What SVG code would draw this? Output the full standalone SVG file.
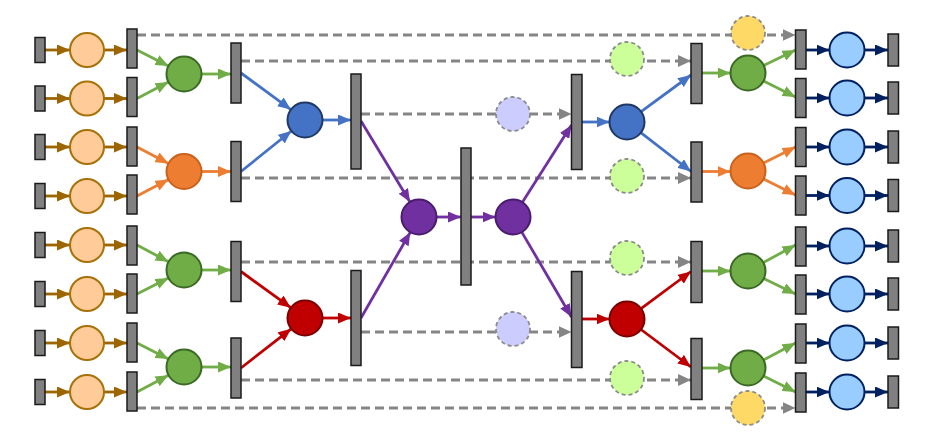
<svg xmlns="http://www.w3.org/2000/svg" width="933" height="436" viewBox="0 0 933 436">
<style>
.bar{fill:#808080;stroke:#1a1a1a;stroke-width:1.5}
.dash{stroke:#858585;stroke-width:3.2;stroke-dasharray:9 5;fill:none}
.ln{stroke-width:2.8;fill:none}
.brown{stroke:#9C6500}
.grn{stroke:#70AD47}
.org{stroke:#ED7D31}
.blu{stroke:#4472C4}
.red{stroke:#C00000}
.pur{stroke:#7030A0}
.nav{stroke:#002060}
.c-lo{fill:#FFCC99;stroke:#A67209;stroke-width:2}
.c-g{fill:#70AD47;stroke:#3B6A25;stroke-width:2}
.c-o{fill:#ED7D31;stroke:#C8621C;stroke-width:2}
.c-b{fill:#4472C4;stroke:#203864;stroke-width:2}
.c-r{fill:#C00000;stroke:#7A0000;stroke-width:2}
.c-p{fill:#7030A0;stroke:#4A1C6E;stroke-width:2}
.c-lb{fill:#99CCFF;stroke:#002060;stroke-width:2}
.c-lg{fill:#CCFF99;stroke:#8C8C8C;stroke-width:1.8;stroke-dasharray:4 3}
.c-lv{fill:#CCCCFF;stroke:#8C8C8C;stroke-width:1.8;stroke-dasharray:4 3}
.c-y{fill:#FFD966;stroke:#8C8C8C;stroke-width:1.8;stroke-dasharray:4 3}
</style>
<defs>
<marker id="aBrown" markerUnits="userSpaceOnUse" markerWidth="13" markerHeight="11" refX="13" refY="5.5" orient="auto"><path d="M0,0 L13,5.5 L0,11 z" fill="#9C6500"/></marker>
<marker id="aGrn" markerUnits="userSpaceOnUse" markerWidth="13" markerHeight="11" refX="13" refY="5.5" orient="auto"><path d="M0,0 L13,5.5 L0,11 z" fill="#70AD47"/></marker>
<marker id="aOrg" markerUnits="userSpaceOnUse" markerWidth="13" markerHeight="11" refX="13" refY="5.5" orient="auto"><path d="M0,0 L13,5.5 L0,11 z" fill="#ED7D31"/></marker>
<marker id="aBlu" markerUnits="userSpaceOnUse" markerWidth="13" markerHeight="11" refX="13" refY="5.5" orient="auto"><path d="M0,0 L13,5.5 L0,11 z" fill="#4472C4"/></marker>
<marker id="aRed" markerUnits="userSpaceOnUse" markerWidth="13" markerHeight="11" refX="13" refY="5.5" orient="auto"><path d="M0,0 L13,5.5 L0,11 z" fill="#C00000"/></marker>
<marker id="aPur" markerUnits="userSpaceOnUse" markerWidth="13" markerHeight="11" refX="13" refY="5.5" orient="auto"><path d="M0,0 L13,5.5 L0,11 z" fill="#7030A0"/></marker>
<marker id="aNav" markerUnits="userSpaceOnUse" markerWidth="13" markerHeight="11" refX="13" refY="5.5" orient="auto"><path d="M0,0 L13,5.5 L0,11 z" fill="#002060"/></marker>
<marker id="aGray" markerUnits="userSpaceOnUse" markerWidth="13" markerHeight="12" refX="13" refY="6" orient="auto"><path d="M0,0 L13,6 L0,12 z" fill="#858585"/></marker>
</defs>
<rect width="933" height="436" fill="#ffffff"/>

<g id="connectors">
<g class="dash" marker-end="url(#aGray)">
<line x1="137" y1="35" x2="795.5" y2="35"/>
<line x1="241" y1="61" x2="691" y2="61"/>
<line x1="361" y1="114" x2="571.5" y2="114"/>
<line x1="241" y1="178" x2="691" y2="178"/>
<line x1="241" y1="262" x2="691" y2="262"/>
<line x1="361" y1="332" x2="571.5" y2="332"/>
<line x1="241" y1="380" x2="691" y2="380"/>
<line x1="137" y1="408" x2="795.5" y2="408"/>
</g>
<g class="ln brown" marker-end="url(#aBrown)">
<line x1="45" y1="50" x2="70" y2="50"/><line x1="104" y1="50" x2="127" y2="50"/>
<line x1="45" y1="98.5" x2="70" y2="98.5"/><line x1="104" y1="98.5" x2="127" y2="98.5"/>
<line x1="45" y1="147" x2="70" y2="147"/><line x1="104" y1="147" x2="127" y2="147"/>
<line x1="45" y1="196" x2="70" y2="196"/><line x1="104" y1="196" x2="127" y2="196"/>
<line x1="45" y1="245" x2="70" y2="245"/><line x1="104" y1="245" x2="127" y2="245"/>
<line x1="45" y1="294" x2="70" y2="294"/><line x1="104" y1="294" x2="127" y2="294"/>
<line x1="45" y1="343" x2="70" y2="343"/><line x1="104" y1="343" x2="127" y2="343"/>
<line x1="45" y1="392" x2="70" y2="392"/><line x1="104" y1="392" x2="127" y2="392"/>
</g>
<g class="ln grn" marker-end="url(#aGrn)">
<line x1="137" y1="50" x2="168.4" y2="66"/>
<line x1="137" y1="98.5" x2="168.5" y2="82.1"/>
<line x1="201.5" y1="74" x2="231" y2="74"/>
<line x1="137" y1="245" x2="168.5" y2="261.8"/>
<line x1="137" y1="294" x2="168.4" y2="278"/>
<line x1="201.5" y1="270" x2="231" y2="270"/>
<line x1="137" y1="343" x2="168.4" y2="359"/>
<line x1="137" y1="392" x2="168.5" y2="375.2"/>
<line x1="201.5" y1="367" x2="231" y2="367"/>
</g>
<g class="ln org" marker-end="url(#aOrg)">
<line x1="137" y1="147" x2="168.5" y2="163.4"/>
<line x1="137" y1="196" x2="168.5" y2="179.6"/>
<line x1="201.5" y1="171.5" x2="231" y2="171.5"/>
</g>
<g class="ln blu" marker-end="url(#aBlu)">
<line x1="241" y1="73" x2="290.9" y2="109.6"/>
<line x1="241" y1="171.5" x2="291.4" y2="131"/>
<line x1="322.5" y1="120" x2="351" y2="120"/>
</g>
<g class="ln red" marker-end="url(#aRed)">
<line x1="241" y1="271.5" x2="290.8" y2="307.7"/>
<line x1="241" y1="368" x2="291.2" y2="328.8"/>
<line x1="322.5" y1="318" x2="351" y2="318"/>
</g>
<g class="ln pur" marker-end="url(#aPur)">
<line x1="361" y1="121" x2="410" y2="202"/>
<line x1="361" y1="318" x2="410.3" y2="232.2"/>
<line x1="436.5" y1="217" x2="461" y2="217"/>
<line x1="471" y1="217" x2="495.5" y2="217"/>
<line x1="522.4" y1="202.2" x2="571.5" y2="125"/>
<line x1="521.8" y1="232.1" x2="571.5" y2="317"/>
</g>
<g class="ln blu" marker-end="url(#aBlu)">
<line x1="582" y1="122" x2="609.5" y2="122"/>
<line x1="641.1" y1="111.6" x2="691" y2="75"/>
<line x1="640.8" y1="132.7" x2="691" y2="171.5"/>
</g>
<g class="ln red" marker-end="url(#aRed)">
<line x1="582" y1="319" x2="609.5" y2="319"/>
<line x1="641" y1="308.6" x2="691" y2="271.5"/>
<line x1="641" y1="329.5" x2="691" y2="367"/>
</g>
<g class="ln grn" marker-end="url(#aGrn)">
<line x1="702" y1="73" x2="730.5" y2="73"/>
<line x1="763.7" y1="65.4" x2="795.5" y2="50"/>
<line x1="763.6" y1="80.9" x2="795.5" y2="97"/>
<line x1="702" y1="271" x2="730.5" y2="271"/>
<line x1="763.4" y1="262.6" x2="795.5" y2="245"/>
<line x1="763.7" y1="278.6" x2="795.5" y2="294"/>
<line x1="702" y1="368" x2="730.5" y2="368"/>
<line x1="763.5" y1="359.9" x2="795.5" y2="343"/>
<line x1="763.6" y1="375.9" x2="795.5" y2="392"/>
</g>
<g class="ln org" marker-end="url(#aOrg)">
<line x1="702" y1="171.5" x2="730.5" y2="171.5"/>
<line x1="763.6" y1="163.1" x2="795.5" y2="147"/>
<line x1="763.6" y1="178.9" x2="795.5" y2="195"/>
</g>
<g class="ln nav" marker-end="url(#aNav)">
<line x1="806" y1="50" x2="829.5" y2="50"/><line x1="864.5" y1="50" x2="888" y2="50"/>
<line x1="806" y1="98" x2="829.5" y2="98"/><line x1="864.5" y1="98" x2="888" y2="98"/>
<line x1="806" y1="147" x2="829.5" y2="147"/><line x1="864.5" y1="147" x2="888" y2="147"/>
<line x1="806" y1="195.5" x2="829.5" y2="195.5"/><line x1="864.5" y1="195.5" x2="888" y2="195.5"/>
<line x1="806" y1="246" x2="829.5" y2="246"/><line x1="864.5" y1="246" x2="888" y2="246"/>
<line x1="806" y1="294" x2="829.5" y2="294"/><line x1="864.5" y1="294" x2="888" y2="294"/>
<line x1="806" y1="343" x2="829.5" y2="343"/><line x1="864.5" y1="343" x2="888" y2="343"/>
<line x1="806" y1="392" x2="829.5" y2="392"/><line x1="864.5" y1="392" x2="888" y2="392"/>
</g>
</g>

<g id="src-bars">
<rect class="bar" x="35" y="37.5" width="10" height="25"/>
<rect class="bar" x="35" y="86" width="10" height="25"/>
<rect class="bar" x="35" y="134.5" width="10" height="25"/>
<rect class="bar" x="35" y="183.5" width="10" height="25"/>
<rect class="bar" x="35" y="232.5" width="10" height="25"/>
<rect class="bar" x="35" y="281.5" width="10" height="25"/>
<rect class="bar" x="35" y="330.5" width="10" height="25"/>
<rect class="bar" x="35" y="379.5" width="10" height="25"/>
</g>
<g id="src-places">
<circle class="c-lo" cx="87" cy="50" r="17"/>
<circle class="c-lo" cx="87" cy="98.5" r="17"/>
<circle class="c-lo" cx="87" cy="147" r="17"/>
<circle class="c-lo" cx="87" cy="196" r="17"/>
<circle class="c-lo" cx="87" cy="245" r="17"/>
<circle class="c-lo" cx="87" cy="294" r="17"/>
<circle class="c-lo" cx="87" cy="343" r="17"/>
<circle class="c-lo" cx="87" cy="392" r="17"/>
</g>
<g id="left-bars1">
<rect class="bar" x="127" y="29" width="10" height="39"/>
<rect class="bar" x="127" y="77.5" width="10" height="39"/>
<rect class="bar" x="127" y="127" width="10" height="39"/>
<rect class="bar" x="127" y="175" width="10" height="39"/>
<rect class="bar" x="127" y="226" width="10" height="39"/>
<rect class="bar" x="127" y="274" width="10" height="39"/>
<rect class="bar" x="127" y="323" width="10" height="39"/>
<rect class="bar" x="127" y="372" width="10" height="39"/>
</g>
<g id="left-l2">
<circle class="c-g" cx="184" cy="74" r="17.5"/>
<circle class="c-o" cx="184" cy="171.5" r="17.5"/>
<circle class="c-g" cx="184" cy="270" r="17.5"/>
<circle class="c-g" cx="184" cy="367" r="17.5"/>
</g>
<g id="left-bars2">
<rect class="bar" x="231" y="43" width="10" height="60"/>
<rect class="bar" x="231" y="141.5" width="10" height="60"/>
<rect class="bar" x="231" y="241.5" width="10" height="60"/>
<rect class="bar" x="231" y="338" width="10" height="60"/>
</g>
<g id="left-l3">
<circle class="c-b" cx="305" cy="120" r="17.5"/>
<circle class="c-r" cx="305" cy="318" r="17.5"/>
</g>
<g id="left-bars3">
<rect class="bar" x="351" y="74" width="10" height="95"/>
<rect class="bar" x="351" y="270.5" width="10" height="95"/>
</g>
<g id="center">
<circle class="c-p" cx="419" cy="217" r="17.5"/>
<rect class="bar" x="461" y="148" width="10" height="137"/>
<circle class="c-p" cx="513" cy="217" r="17.5"/>
</g>
<g id="buffer-places">
<circle class="c-lv" cx="513" cy="114" r="17"/>
<circle class="c-lv" cx="513" cy="329" r="17"/>
<circle class="c-lg" cx="627" cy="59" r="17"/>
<circle class="c-lg" cx="627" cy="176" r="17"/>
<circle class="c-lg" cx="627" cy="258" r="17"/>
<circle class="c-lg" cx="627" cy="378" r="17"/>
<circle class="c-y" cx="748" cy="33" r="17"/>
<circle class="c-y" cx="748" cy="408" r="17"/>
</g>
<g id="right-bars3">
<rect class="bar" x="571.5" y="74.5" width="10.5" height="95"/>
<rect class="bar" x="571.5" y="271.5" width="10.5" height="96"/>
</g>
<g id="right-l3">
<circle class="c-b" cx="627" cy="122" r="17.5"/>
<circle class="c-r" cx="627" cy="319" r="17.5"/>
</g>
<g id="right-bars2">
<rect class="bar" x="691" y="43.5" width="11" height="60"/>
<rect class="bar" x="691" y="142" width="11" height="60"/>
<rect class="bar" x="691" y="241.5" width="11" height="61"/>
<rect class="bar" x="691" y="338.5" width="11" height="61"/>
</g>
<g id="right-l2">
<circle class="c-g" cx="748" cy="73" r="17.5"/>
<circle class="c-o" cx="748" cy="171" r="17.5"/>
<circle class="c-g" cx="748" cy="271" r="17.5"/>
<circle class="c-g" cx="748" cy="368" r="17.5"/>
</g>
<g id="right-bars1">
<rect class="bar" x="795.5" y="30" width="10.5" height="39"/>
<rect class="bar" x="795.5" y="78.5" width="10.5" height="39"/>
<rect class="bar" x="795.5" y="127.5" width="10.5" height="39"/>
<rect class="bar" x="795.5" y="176" width="10.5" height="39"/>
<rect class="bar" x="795.5" y="227" width="10.5" height="39"/>
<rect class="bar" x="795.5" y="275" width="10.5" height="39"/>
<rect class="bar" x="795.5" y="324" width="10.5" height="39"/>
<rect class="bar" x="795.5" y="373" width="10.5" height="39"/>
</g>
<g id="sink-places">
<circle class="c-lb" cx="847" cy="50" r="17.5"/>
<circle class="c-lb" cx="847" cy="98" r="17.5"/>
<circle class="c-lb" cx="847" cy="147" r="17.5"/>
<circle class="c-lb" cx="847" cy="195.5" r="17.5"/>
<circle class="c-lb" cx="847" cy="246" r="17.5"/>
<circle class="c-lb" cx="847" cy="294" r="17.5"/>
<circle class="c-lb" cx="847" cy="343" r="17.5"/>
<circle class="c-lb" cx="847" cy="392" r="17.5"/>
</g>
<g id="sink-bars">
<rect class="bar" x="888" y="34" width="10.5" height="32"/>
<rect class="bar" x="888" y="82" width="10.5" height="32"/>
<rect class="bar" x="888" y="131" width="10.5" height="32"/>
<rect class="bar" x="888" y="179.5" width="10.5" height="32"/>
<rect class="bar" x="888" y="230" width="10.5" height="32"/>
<rect class="bar" x="888" y="278" width="10.5" height="32"/>
<rect class="bar" x="888" y="327" width="10.5" height="32"/>
<rect class="bar" x="888" y="376" width="10.5" height="32"/>
</g>
</svg>
